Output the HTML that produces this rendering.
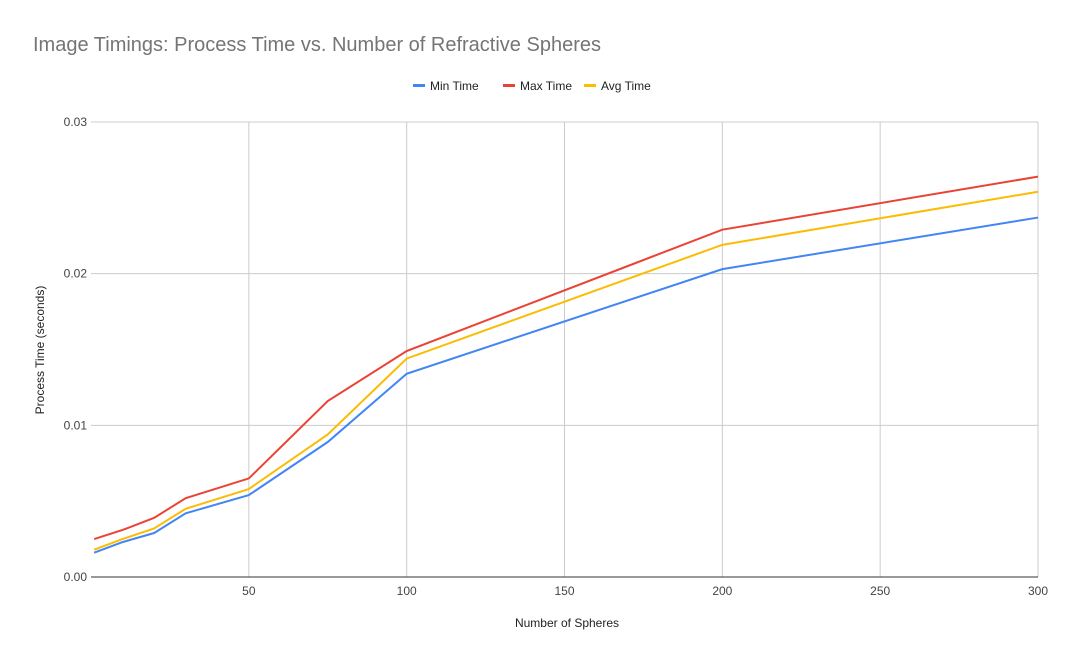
<!DOCTYPE html>
<html><head><meta charset="utf-8"><style>
body{margin:0;background:#fff;font-family:"Liberation Sans",Arial,sans-serif}
svg text{font-family:"Liberation Sans",Arial,sans-serif}
</style></head><body>
<svg id="c" width="1072" height="663">
<rect width="1072" height="663" fill="#fff"/>
<text x="33" y="51" font-size="20" fill="#757575">Image Timings: Process Time vs. Number of Refractive Spheres</text>
<g id="legend"></g>
<g id="grid"></g><g id="lines"></g>
<text x="567" y="627" font-size="12" text-anchor="middle" fill="#222">Number of Spheres</text>
<text transform="translate(44,350) rotate(-90)" font-size="12" text-anchor="middle" fill="#222">Process Time (seconds)</text>
</svg>
<script>
const xs=[1,10,20,30,50,75,100,200,300];
const minT=[0.0016,0.0023,0.0029,0.0042,0.0054,0.0089,0.0134,0.0203,0.0237];
const maxT=[0.0025,0.0031,0.0039,0.0052,0.0065,0.0116,0.0149,0.0229,0.0264];
const avgT=[0.0018,0.0025,0.0032,0.0045,0.0058,0.0094,0.0144,0.0219,0.0254];
const xTicks=[50,100,150,200,250,300];
const yTicks=[0,0.01,0.02,0.03];
const yLabels=["0.00","0.01","0.02","0.03"];
const seriesNames=["Min Time","Max Time","Avg Time"];
const colors=["#4285f4","#ea4335","#fbbc04"];
const L=91,R=1038,T=122,B=577;
const X=v=>L+(v/300)*(R-L);
const Y=v=>B-(v/0.03)*(B-T);
const NS="http://www.w3.org/2000/svg";
function mk(t,a,p){const e=document.createElementNS(NS,t);for(const k in a)e.setAttribute(k,a[k]);p.appendChild(e);return e;}
const g=document.getElementById('grid');
yTicks.forEach((v,i)=>{
 const l=mk('line',{x1:L,x2:R,y1:Y(v),y2:Y(v),stroke:i==0?'#333':'#ccc','stroke-width':1},g);
 
 
 const t=mk('text',{x:L-4,y:Y(v)+4,'font-size':12,'text-anchor':'end',fill:'#444'},g);t.textContent=yLabels[i];
 
 
});
xTicks.forEach(v=>{
 const l=mk('line',{x1:X(v),x2:X(v),y1:T,y2:B,stroke:'#ccc','stroke-width':1},g);
 
 
 const t=mk('text',{x:X(v),y:B+18,'font-size':12,'text-anchor':'middle',fill:'#444'},g);t.textContent=v;
 
 
});
mk('line',{x1:L,x2:R,y1:B,y2:B,stroke:'#333'},g);
const ln=document.getElementById('lines');
[minT,maxT,avgT].forEach((s,i)=>{
 const p=mk('polyline',{points:s.map((v,j)=>X(xs[j])+','+Y(v)).join(' '),fill:'none',stroke:colors[i],'stroke-width':2},ln);
 
 
});
const lg=document.getElementById('legend');
const lx=[413,503,584];
seriesNames.forEach((n,i)=>{
 const r=mk('rect',{x:lx[i],y:84,width:12,height:3,fill:colors[i]},lg);
 
 
 const t=mk('text',{x:lx[i]+17,y:90,'font-size':12,fill:'#222'},lg);t.textContent=n;
 
 
});
</script>
</body></html>
